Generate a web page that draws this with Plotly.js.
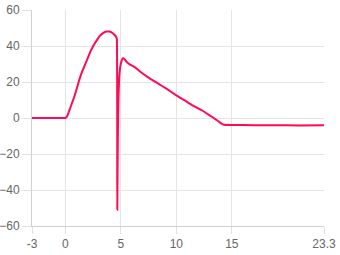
<!DOCTYPE html>
<html><head><meta charset="utf-8">
<script src="https://cdn.plot.ly/plotly-3.0.1.min.js"></script>
<style>html,body{margin:0;padding:0;background:#fff}#c{width:340px;height:255px}</style>
</head><body><div id="c"></div>
<script>
const xValues = [-3, -1, 0, 0.12, 0.25, 0.41, 0.62, 0.86, 1.08, 1.3, 1.53, 1.76, 2.0, 2.2, 2.43, 2.66, 2.9, 3.1, 3.4, 3.7, 3.95, 4.16, 4.4, 4.58, 4.64, 4.68, 4.73, 4.78, 4.85, 4.95, 5.08, 5.2, 5.35, 5.5, 5.8, 6.26, 6.7, 7.6, 8.4, 9.1, 10.0, 10.8, 11.5, 12.3, 13.0, 13.6, 14.0, 14.3, 15, 17, 19, 21, 23.3];
const yValues = [0, 0, 0, 0.6, 2.2, 5.0, 8.6, 12.8, 17.4, 22, 26, 29.4, 33, 36, 39, 41.5, 43.8, 45.6, 47.2, 48, 48, 47.6, 46.4, 45, 44, -51, -12, 10, 22, 28.5, 32, 33.4, 32.6, 31.3, 29.8, 28.3, 26, 22, 19, 16.3, 12.6, 9.6, 6.9, 4.3, 1.5, -1, -2.8, -3.8, -3.9, -4, -4, -4.1, -4];
const xTickVals = [-3, 0, 5, 10, 15, 23.3];
const yTickVals = [-60, -40, -20, 0, 20, 40, 60];

const font = {family: 'Liberation Sans, Arial, sans-serif', size: 12, color: '#666'};
Plotly.newPlot('c', [{
  x: xValues, y: yValues, type: 'scatter', mode: 'lines',
  line: {color: 'rgb(255,10,84)', width: 2, shape: 'spline', smoothing: 0.3},
  hoverinfo: 'none'
}], {
  width: 340, height: 255,
  margin: {l: 32, r: 16, t: 10, b: 29},
  paper_bgcolor: '#fff', plot_bgcolor: '#fff',
  showlegend: false, font: font,
  xaxis: {range: [-3, 23.3], tickvals: xTickVals, ticktext: xTickVals.map(String),
    showgrid: true, gridcolor: '#e5e5e5', zeroline: false,
    showline: true, linecolor: '#d0d0d0', linewidth: 1,
    ticks: 'outside', ticklen: 7, tickcolor: '#e0e0e0', tickfont: font},
  yaxis: {range: [-60, 60], tickvals: yTickVals,
    showgrid: true, gridcolor: '#e5e5e5', zeroline: false,
    showline: true, linecolor: '#d0d0d0', linewidth: 1,
    ticks: 'outside', ticklen: 9, tickcolor: '#e0e0e0', tickfont: font}
}, {staticPlot: true});
</script></body></html>
